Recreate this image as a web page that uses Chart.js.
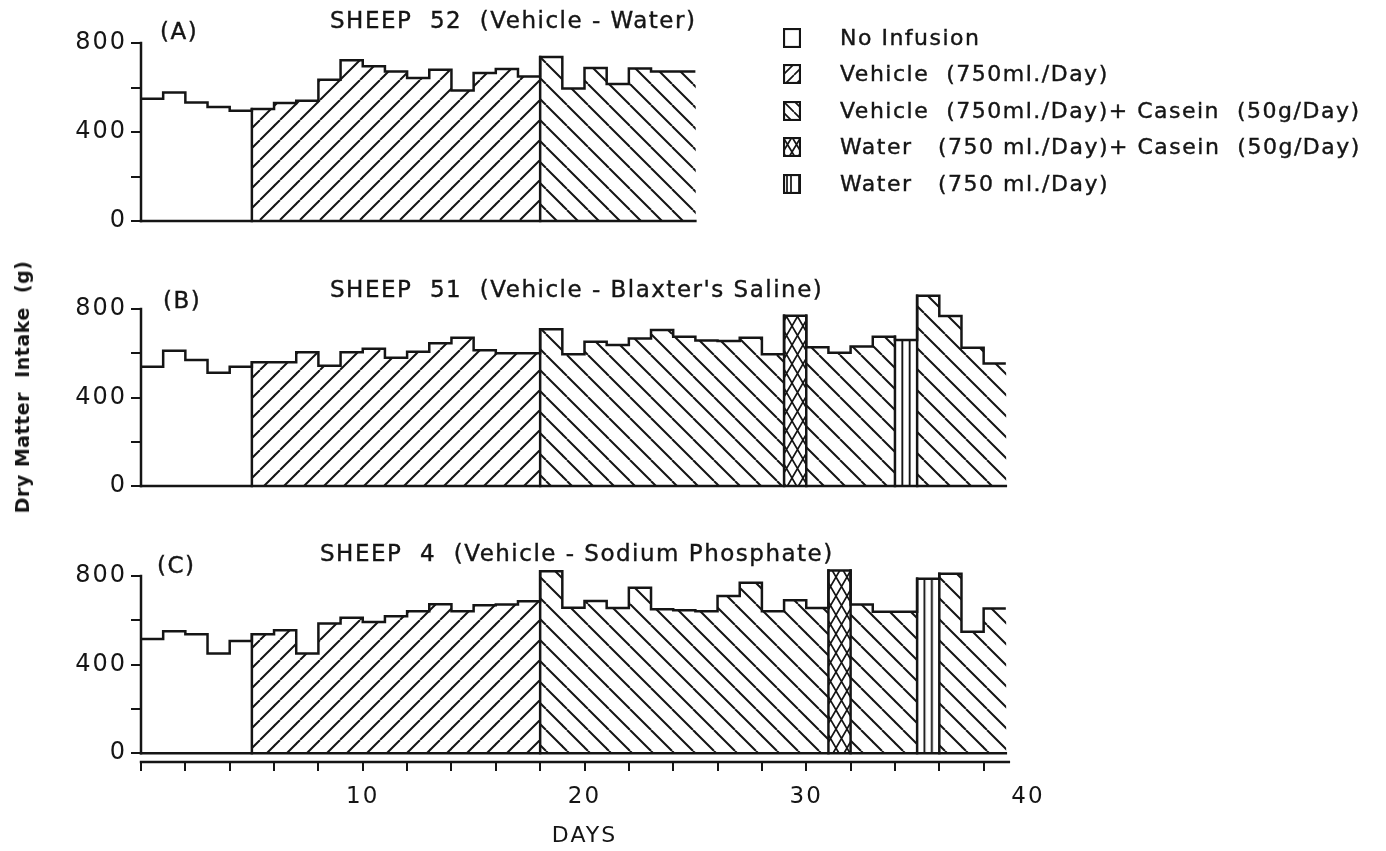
<!DOCTYPE html>
<html>
<head>
<meta charset="utf-8">
<script src="https://cdn.jsdelivr.net/npm/chart.js@4.4.1/dist/chart.umd.min.js"></script>
<style>
  html, body { margin: 0; padding: 0; background: #ffffff; }
  body { width: 1386px; height: 851px; position: relative; overflow: hidden;
         font-family: "DejaVu Sans", sans-serif; color: #151515; }
  canvas.panel { position: absolute; left: 0; }
  .txt { position: absolute; white-space: pre; line-height: 20px; font-size: 23px; letter-spacing: 1.5px;
         -webkit-text-stroke: 0.4px #151515; }
  .ylab { position: absolute; white-space: pre; font-weight: bold; font-size: 19px; letter-spacing: 0.5px;
          transform: translate(-50%, -50%) rotate(-90deg); }
  .leg-row { position: absolute; left: 0; height: 20px; }
  .leg-row canvas { position: absolute; left: 783px; top: 0; }
  .leg-row span { position: absolute; left: 840px; top: 0; line-height: 20px; font-size: 22px;
                  letter-spacing: 1.5px; white-space: pre; -webkit-text-stroke: 0.4px #151515; }
</style>
</head>
<body>
<canvas class="panel" id="panelA" width="1386" height="250" style="top:0px"></canvas>
<canvas class="panel" id="panelB" width="1386" height="270" style="top:250px"></canvas>
<canvas class="panel" id="panelC" width="1386" height="331" style="top:520px"></canvas>

<div class="txt" style="left:160px;top:21px">(A)</div>
<div class="txt" style="left:330px;top:10px">SHEEP  52  (Vehicle - Water)</div>
<div class="txt" style="left:163px;top:290px">(B)</div>
<div class="txt" style="left:330px;top:279px">SHEEP  51  (Vehicle - Blaxter's Saline)</div>
<div class="txt" style="left:157px;top:555px">(C)</div>
<div class="txt" style="left:320px;top:543px">SHEEP  4  (Vehicle - Sodium Phosphate)</div>
<div class="ylab" style="left:22px;top:387px">Dry Matter  Intake  (g)</div>
<div id="legend"></div>

<script>
// ---- data ---------------------------------------------------------------
// Daily dry matter intake (g), one value per day starting at day 0.
const sheep52Intake = [549, 578, 533, 512, 495,
  503, 530, 540, 635, 722, 695, 672, 643, 680, 587, 665, 683, 650,
  737, 595, 688, 616, 685, 672, 672];
const sheep52Treatment = ['N','N','N','N','N',
  'V','V','V','V','V','V','V','V','V','V','V','V','V',
  'VC','VC','VC','VC','VC','VC','VC'];

const sheep51Intake = [539, 611, 569, 512, 539,
  559, 559, 604, 544, 604, 620, 580, 607, 645, 670, 614, 600, 600,
  708, 596, 652, 637, 667, 705, 675, 658, 655, 670, 596,
  770,
  627, 602, 630, 675,
  660,
  860, 768, 625, 554];
const sheep51Treatment = ['N','N','N','N','N',
  'V','V','V','V','V','V','V','V','V','V','V','V','V',
  'VC','VC','VC','VC','VC','VC','VC','VC','VC','VC','VC',
  'WC',
  'VC','VC','VC','VC',
  'W',
  'VC','VC','VC','VC'];

const sheep4Intake = [515, 550, 537, 450, 506,
  537, 555, 450, 585, 612, 592, 618, 641, 672, 641, 668, 671, 686,
  821, 657, 687, 656, 747, 650, 645, 641, 710, 770, 641, 690, 656,
  825,
  671, 638, 638,
  788,
  810, 548, 653];
const sheep4Treatment = ['N','N','N','N','N',
  'V','V','V','V','V','V','V','V','V','V','V','V','V',
  'VC','VC','VC','VC','VC','VC','VC','VC','VC','VC','VC','VC','VC',
  'WC',
  'VC','VC','VC',
  'W',
  'VC','VC','VC'];

const treatmentKeys = ['N', 'V', 'VC', 'WC', 'W'];
const treatmentLabels = ['No Infusion',
  'Vehicle  (750ml./Day)',
  'Vehicle  (750ml./Day)+ Casein  (50g/Day)',
  'Water   (750 ml./Day)+ Casein  (50g/Day)',
  'Water   (750 ml./Day)'];

const intakeTicks = [0, 200, 400, 600, 800];
const intakeLabelled = [0, 400, 800];
const dayLabelled = [10, 20, 30, 40];
const dayTickStep = 2;

// ---- drawing helpers ----------------------------------------------------
const INK = '#151515';

function tile(w, h, draw) {
  const c = document.createElement('canvas');
  c.width = w; c.height = h;
  const g = c.getContext('2d');
  g.strokeStyle = INK;
  draw(g, w, h);
  return c;
}

// Hatch fills: '/' vehicle, '\' vehicle + casein, cross-hatch water + casein,
// vertical stripes water only.
function makeFill(kind, step, lw) {
  let t;
  if (kind === 'V') {
    t = tile(step, step, (g, w, h) => {
      g.lineWidth = lw; g.beginPath();
      for (let k = -1; k <= 1; k++) { g.moveTo(k * w, h); g.lineTo(k * w + w, 0); }
      g.stroke();
    });
  } else if (kind === 'VC') {
    t = tile(step, step, (g, w, h) => {
      g.lineWidth = lw; g.beginPath();
      for (let k = -1; k <= 1; k++) { g.moveTo(k * w, 0); g.lineTo(k * w + w, h); }
      g.stroke();
    });
  } else if (kind === 'WC') {
    const hh = Math.round(step * 1.7);
    t = tile(step, hh, (g, w, h) => {
      g.lineWidth = lw; g.beginPath();
      for (let k = -1; k <= 1; k++) {
        g.moveTo(k * w, 0); g.lineTo(k * w + w, h);
        g.moveTo(k * w + w, 0); g.lineTo(k * w, h);
      }
      g.stroke();
    });
  } else if (kind === 'W') {
    t = tile(step, 4, (g, w, h) => {
      g.lineWidth = lw; g.beginPath();
      g.moveTo(w / 3, 0); g.lineTo(w / 3, h);
      g.moveTo(2 * w / 3, 0); g.lineTo(2 * w / 3, h);
      g.stroke();
    });
  } else {
    return '#ffffff';
  }
  return document.createElement('canvas').getContext('2d').createPattern(t, 'repeat');
}

// Wider lettering for the axis numbers.
const letteringPlugin = {
  id: 'lettering',
  beforeLayout(chart) { chart.ctx.letterSpacing = '2px'; },
  beforeDraw(chart) { chart.ctx.letterSpacing = '2px'; }
};

// Axis lines, baseline and full-height dividers between treatment periods.
const framePlugin = {
  id: 'frame',
  beforeDatasetsDraw(chart, args, opts) {
    const x = chart.scales.x;
    const w = opts.treatment.indexOf('W');
    if (w >= 0 && opts.stripe && opts.stripe.setTransform) {
      opts.stripe.setTransform(new DOMMatrix().translateSelf(x.getPixelForValue(w), 0));
    }
  },
  afterDatasetsDraw(chart, args, opts) {
    const { ctx } = chart;
    const x = chart.scales.x, y = chart.scales.y;
    const vals = opts.intake, tr = opts.treatment, n = vals.length;
    const seg = (x1, y1, x2, y2) => { ctx.beginPath(); ctx.moveTo(x1, y1); ctx.lineTo(x2, y2); ctx.stroke(); };
    ctx.save();
    ctx.strokeStyle = INK;
    ctx.lineWidth = 2.5;
    ctx.lineCap = 'square';
    const x0 = x.getPixelForValue(0), xn = x.getPixelForValue(n);
    const y0 = y.getPixelForValue(0);
    seg(x0, y0, x0, y.getPixelForValue(intakeTicks[intakeTicks.length - 1]));
    seg(x0, y0, xn, y0);
    for (let i = 1; i < n; i++) {
      if (tr[i] !== tr[i - 1]) {
        const xp = x.getPixelForValue(i);
        seg(xp, y0, xp, y.getPixelForValue(Math.max(vals[i - 1], vals[i])));
      }
    }
    if (opts.dayAxis) {
      const yb = chart.chartArea.bottom;
      seg(x0, yb, x.getPixelForValue(n) + 3, yb);
    }
    ctx.restore();
  }
};

function buildPanel(id, intake, treatment, withDays) {
  const fills = {
    N: '#ffffff',
    V: makeFill('V', 20, 2),
    VC: makeFill('VC', 21, 2),
    WC: makeFill('WC', 11, 1.7),
    W: makeFill('W', 22, 1.9)
  };
  const bars = treatmentKeys.map((k, i) => ({
    type: 'bar',
    label: treatmentLabels[i],
    data: intake.map((v, d) => (treatment[d] === k ? { x: d + 0.5, y: v } : null)).filter(Boolean),
    backgroundColor: fills[k],
    borderWidth: 0,
    grouped: false,
    barPercentage: 1,
    categoryPercentage: 1,
    clip: false,
    order: 2
  })).filter(ds => ds.data.length);

  const outline = {
    type: 'line',
    label: 'outline',
    data: intake.flatMap((v, d) => [{ x: d, y: v }, { x: d + 1, y: v }]),
    borderColor: INK,
    borderWidth: 2.5,
    borderJoinStyle: 'miter',
    pointRadius: 0,
    tension: 0,
    fill: false,
    clip: false,
    order: 0
  };

  const canvas = document.getElementById(id);
  const layoutPad = withDays
    ? { left: 0, right: 358, top: 56, bottom: 0 }
    : (id === 'panelA' ? { left: 0, right: 358, top: 43, bottom: 29 }
                       : { left: 0, right: 358, top: 59, bottom: 34 });

  return new Chart(canvas, {
    type: 'bar',
    data: { datasets: [outline, ...bars] },
    options: {
      responsive: false,
      animation: false,
      devicePixelRatio: 1,
      layout: { padding: layoutPad },
      plugins: {
        legend: { display: false },
        tooltip: { enabled: false },
        frame: { intake, treatment, stripe: fills.W, dayAxis: withDays }
      },
      scales: {
        x: {
          type: 'linear',
          min: 0,
          max: 40,
          offset: false,
          display: withDays,
          grid: {
            offset: false,
            drawOnChartArea: false,
            drawTicks: true,
            tickLength: 9,
            lineWidth: 2,
            color: c => (c.tick && c.tick.value > 38 ? 'rgba(0,0,0,0)' : INK)
          },
          border: { display: false },
          ticks: {
            stepSize: dayTickStep,
            autoSkip: false,
            maxRotation: 0,
            padding: 12,
            color: INK,
            font: { family: 'DejaVu Sans', size: 23 },
            callback: v => (dayLabelled.includes(v) ? String(v) : '')
          },
          title: {
            display: withDays,
            text: 'DAYS',
            color: INK,
            font: { family: 'DejaVu Sans', size: 22 },
            padding: { top: 0, bottom: 2 }
          },
          afterFit: s => { if (withDays) s.height = 89; }
        },
        y: {
          min: withDays ? -40 : 0,
          max: 800,
          grid: {
            drawOnChartArea: false,
            tickLength: 10,
            lineWidth: 2,
            color: INK
          },
          border: { display: false },
          afterBuildTicks: s => { s.ticks = intakeTicks.map(v => ({ value: v })); },
          ticks: {
            padding: 4,
            color: INK,
            font: { family: 'DejaVu Sans', size: 24 },
            callback: v => (intakeLabelled.includes(v) ? String(v) : '')
          },
          afterFit: s => { s.width = 141; }
        }
      }
    },
    plugins: [letteringPlugin, framePlugin]
  });
}

buildPanel('panelA', sheep52Intake, sheep52Treatment, false);
buildPanel('panelB', sheep51Intake, sheep51Treatment, false);
buildPanel('panelC', sheep4Intake, sheep4Treatment, true);

// ---- treatment key -------------------------------------------------------
const legend = document.getElementById('legend');
treatmentKeys.forEach((k, i) => {
  const row = document.createElement('div');
  row.className = 'leg-row';
  row.style.top = (28 + i * 36.4) + 'px';
  const sw = document.createElement('canvas');
  sw.width = 18; sw.height = 20;
  const g = sw.getContext('2d');
  const fill = k === 'N' ? '#ffffff'
    : makeFill(k, k === 'WC' ? 9 : (k === 'W' ? 12 : 11), 1.7);
  g.fillStyle = fill;
  g.fillRect(0, 0, 18, 20);
  g.strokeStyle = INK; g.lineWidth = 2.2;
  g.strokeRect(1, 1, 16, 18);
  const label = document.createElement('span');
  label.textContent = treatmentLabels[i];
  row.appendChild(sw);
  row.appendChild(label);
  legend.appendChild(row);
});
</script>
</body>
</html>
